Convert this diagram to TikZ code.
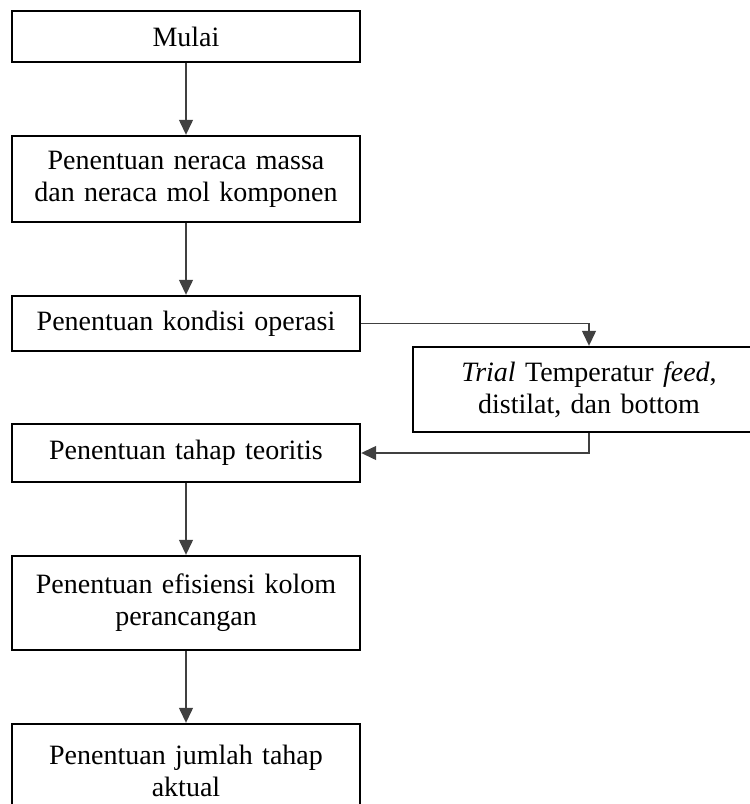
\documentclass[tikz,border=0pt]{standalone}
\usepackage{fontspec}
\setmainfont{Liberation Serif}
\usetikzlibrary{arrows.meta,calc}

\begin{document}
\begin{tikzpicture}[x=1pt, y=-1pt,
    box/.style={draw, line width=2.4pt, minimum width=348pt, text width=336pt, align=center, inner sep=0pt, font=\fontsize{28}{32}\selectfont},
    conn/.style={line width=1.3pt, black!75, -{Triangle[length=15pt,width=14pt]}}]
            \clip (0,0) rectangle (750,804);
            \node[box, minimum height=51pt] (mulai) at (186,36.5) {Mulai};
            \node[box, minimum height=86pt] (neraca) at (186,179) {Penentuan neraca massa\\dan neraca mol komponen};
            \node[box, minimum height=55pt] (kondisi) at (186,323.5) {Penentuan kondisi operasi};
            \node[box, minimum height=85pt, minimum width=352pt, text width=340pt] (trial) at (589,389.5) {\textit{Trial} Temperatur \textit{feed},\\distilat, dan bottom};
            \node[box, minimum height=58pt] (teoritis) at (186,453) {Penentuan tahap teoritis};
            \node[box, minimum height=94pt] (efisiensi) at (186,603) {Penentuan efisiensi kolom\\perancangan};
            \node[box, minimum height=94pt] (aktual) at (186,771) {Penentuan jumlah tahap\\aktual};
            \draw[conn] (mulai) -- (neraca);
            \draw[conn] (neraca) -- (kondisi);
            \draw[conn] (kondisi.east) -| (trial.north);
            \draw[conn] (trial.south) |- (teoritis.east);
            \draw[conn] (teoritis) -- (efisiensi);
            \draw[conn] (efisiensi) -- (aktual);
        \end{tikzpicture}
\end{document}
